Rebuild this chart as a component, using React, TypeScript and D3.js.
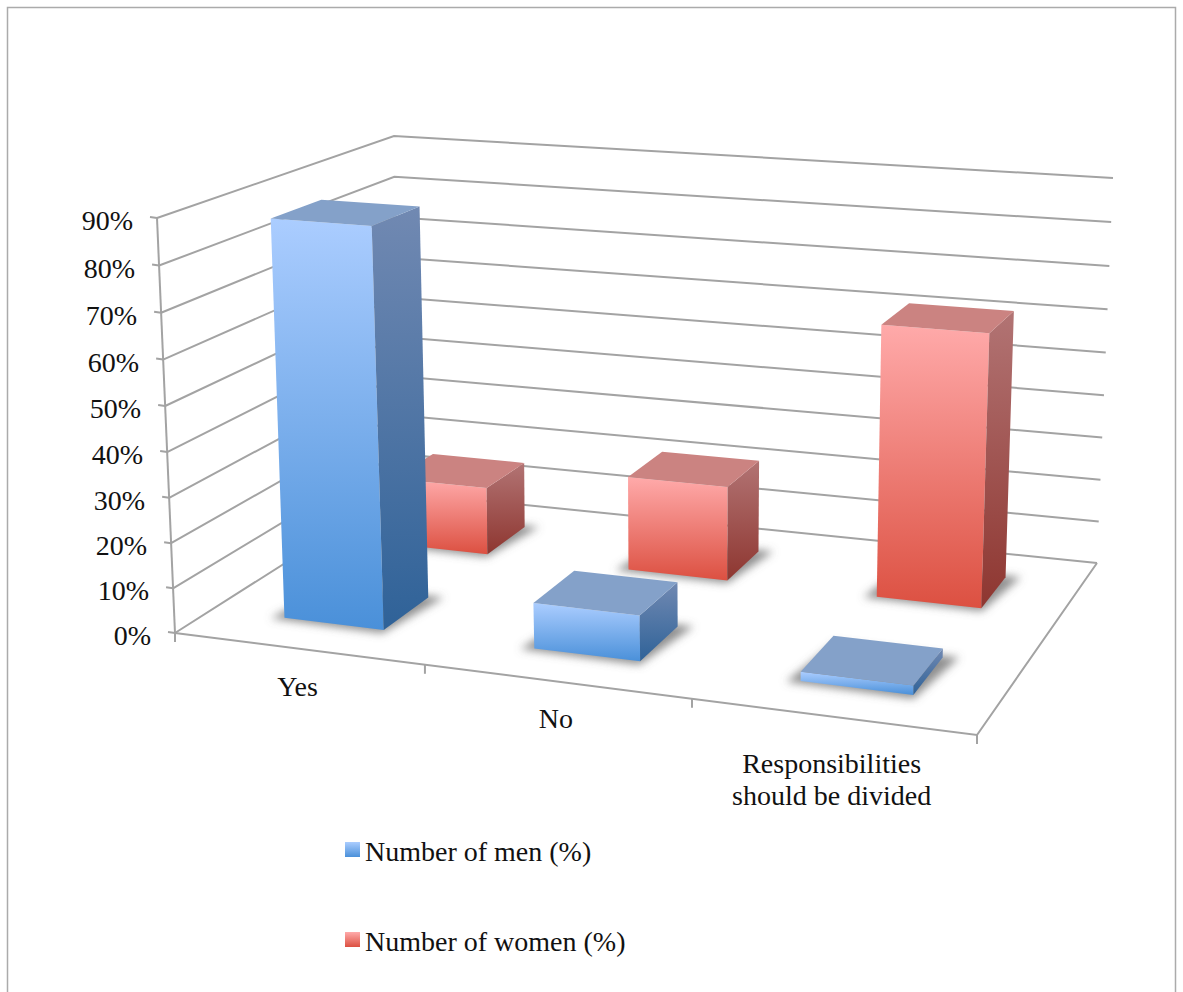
import React from "react";
import * as d3 from "d3";

// Survey results, in percent
const categories = ["Yes", "No", "Responsibilities should be divided"];
const categoryLines = [["Yes"], ["No"], ["Responsibilities", "should be divided"]];
const menValues = [88, 10, 2];
const womenValues = [16, 22, 62];
const valueTicks = [0, 10, 20, 30, 40, 50, 60, 70, 80, 90];
const seriesNames = ["Number of men (%)", "Number of women (%)"];

type Pt = [number, number];

// Homography taking the unit square onto the quad p00, p10, p11, p01
function quadMap(p0: Pt, p1: Pt, p2: Pt, p3: Pt) {
  const dx1 = p1[0] - p2[0], dx2 = p3[0] - p2[0], sx = p0[0] - p1[0] + p2[0] - p3[0];
  const dy1 = p1[1] - p2[1], dy2 = p3[1] - p2[1], sy = p0[1] - p1[1] + p2[1] - p3[1];
  const den = dx1 * dy2 - dx2 * dy1;
  const g = (sx * dy2 - dx2 * sy) / den;
  const h = (dx1 * sy - sx * dy1) / den;
  const a = p1[0] - p0[0] + g * p1[0], b = p3[0] - p0[0] + h * p3[0], c = p0[0];
  const d = p1[1] - p0[1] + g * p1[1], e = p3[1] - p0[1] + h * p3[1], f = p0[1];
  return (s: number, t: number): Pt => {
    const w = g * s + h * t + 1;
    return [(a * s + b * t + c) / w, (d * s + e * t + f) / w];
  };
}

// Box of the 3D plot: floor and the plane at the top of the value axis
const floorAt = quadMap([175, 633], [977, 735], [1097, 563], [397, 492]);
const roofAt = quadMap([157, 218], [991, 282], [1113, 178], [394, 136]);

// Foreshortening of the value axis: the upper part lies further from the viewer
const FORESHORTEN = 0.966;
const heightScale = d3.scaleLinear().domain([0, 90]).range([0, 1]);
const heightFrac = (value: number) => {
  const h = heightScale(value);
  return (h * FORESHORTEN) / (1 + (FORESHORTEN - 1) * h);
};
const alongFrac = d3.scaleLinear().domain([0, 1, 2, 3]).range([0, 0.3377, 0.6714, 1]);

// Map category position, depth (0 front, 1 back) and value to the screen
function project(u: number, v: number, value: number): Pt {
  const s = alongFrac(u);
  const lo = floorAt(s, v);
  const hi = roofAt(s, v);
  const k = heightFrac(value);
  return [lo[0] + (hi[0] - lo[0]) * k, lo[1] + (hi[1] - lo[1]) * k];
}

const polygon = d3.line<Pt>().x((d) => d[0]).y((d) => d[1]);
const closed = (pts: Pt[]) => polygon(pts) + "Z";

const BAR_START = 0.3;
const BAR_END = 0.705;
const MEN_DEPTH: Pt = [0.15, 0.355];
const WOMEN_DEPTH: Pt = [0.65, 0.85];
const AXIS = "#a3a3a3";
const TEXT = "#111";
const FONT = "'Liberation Serif', serif";
const FONT_SIZE = 28;

function Bar({ index, value, depth, id }: { index: number; value: number; depth: Pt; id: string }) {
  const u0 = index + BAR_START, u1 = index + BAR_END;
  const [v0, v1] = depth;
  const shadow = closed([
    project(u0 - 0.045, v0 - 0.012, 0),
    project(u1 + 0.01, v0 - 0.018, 0),
    project(u1 + 0.055, v1 + 0.01, 0),
    project(u0, v1 + 0.01, 0),
  ]);
  const front = closed([project(u0, v0, 0), project(u1, v0, 0), project(u1, v0, value), project(u0, v0, value)]);
  const side = closed([project(u1, v0, 0), project(u1, v1, 0), project(u1, v1, value), project(u1, v0, value)]);
  const top = closed([project(u0, v0, value), project(u1, v0, value), project(u1, v1, value), project(u0, v1, value)]);
  return (
    <g>
      <path d={shadow} fill="#6b6b6b" fillOpacity={0.75} filter="url(#floorShadow)" />
      <path d={front} fill={`url(#${id}Front)`} />
      <path d={side} fill={`url(#${id}Side)`} />
      <path d={top} fill={id === "men" ? "#84a1c9" : "#cb8381"} />
    </g>
  );
}

function Ramp({ id, from, to }: { id: string; from: string; to: string }) {
  return (
    <linearGradient id={id} x1="0" y1="0" x2="0" y2="1">
      <stop offset="0" stopColor={from} />
      <stop offset="1" stopColor={to} />
    </linearGradient>
  );
}

export default function App() {
  const backRight = (value: number): Pt => project(3, 1, value);
  const backLeft = (value: number): Pt => project(0, 1, value);
  const frontLeft = (value: number): Pt => project(0, 0, value);

  return (
    <svg
      width={1183}
      height={992}
      viewBox="0 0 1183 992"
      style={{ position: "absolute", left: 0, top: 0, background: "#fff" }}
      fontFamily={FONT}
    >
      <defs>
        <Ramp id="menFront" from="#abcdff" to="#4a90d9" />
        <Ramp id="menSide" from="#7189b2" to="#2f6298" />
        <Ramp id="womenFront" from="#ffaaaa" to="#dc5041" />
        <Ramp id="womenSide" from="#b27474" to="#8e3630" />
        <filter id="floorShadow" x="-20%" y="-40%" width="140%" height="180%">
          <feGaussianBlur stdDeviation="4" />
        </filter>
      </defs>

      {/* Chart frame, open at the bottom of the page */}
      <path d="M7.5,992V7.5H1175.5V992" fill="none" stroke="#ababab" strokeWidth={1.5} />

      {/* Walls */}
      <g fill="none" stroke={AXIS} strokeWidth={2}>
        {valueTicks.map((t) => (
          <path key={t} d={polygon([frontLeft(t), backLeft(t), backRight(t)]) as string} />
        ))}
        <path d={polygon([frontLeft(0), frontLeft(90)]) as string} />
        {valueTicks.map((t) => {
          const p = frontLeft(t);
          return <path key={t} d={`M${p[0] - 7},${p[1] - 1}L${p[0]},${p[1]}`} />;
        })}
        {/* Floor edges and category ticks */}
        <path d={polygon([project(0, 0, 0), project(3, 0, 0), project(3, 1, 0)]) as string} />
        {d3.range(0, categories.length + 1).map((i) => {
          const p = project(i, 0, 0);
          return <path key={i} d={`M${p[0]},${p[1]}V${p[1] + 9}`} />;
        })}
      </g>

      {/* Value labels */}
      {valueTicks.map((t) => {
        const p = frontLeft(t);
        return (
          <text key={t} x={p[0] - 24} y={p[1] + 12} textAnchor="end" fontSize={FONT_SIZE} fill={TEXT}>
            {t}%
          </text>
        );
      })}

      {/* Back row first, so the front row overlaps it */}
      {womenValues.map((v, i) => (
        <Bar key={i} index={i} value={v} depth={WOMEN_DEPTH} id="women" />
      ))}
      {menValues.map((v, i) => (
        <Bar key={i} index={i} value={v} depth={MEN_DEPTH} id="men" />
      ))}

      {/* Category labels */}
      {categoryLines.map((lines, i) => {
        const p = project(i + 0.5, 0, 0);
        return (
          <text key={i} textAnchor="middle" fontSize={FONT_SIZE} fill={TEXT}>
            {lines.map((line, j) => (
              <tspan key={j} x={p[0]} y={p[1] + (lines.length > 1 ? 56 : 47) + j * 32}>
                {line}
              </tspan>
            ))}
          </text>
        );
      })}

      {/* Legend */}
      {seriesNames.map((name, i) => {
        const y = 842 + i * 90;
        return (
          <g key={name}>
            <rect x={345} y={y} width={15} height={15} fill={`url(#${i === 0 ? "men" : "women"}Front)`} />
            <text x={365} y={y + 19} fontSize={FONT_SIZE} fill={TEXT}>
              {name}
            </text>
          </g>
        );
      })}
    </svg>
  );
}
